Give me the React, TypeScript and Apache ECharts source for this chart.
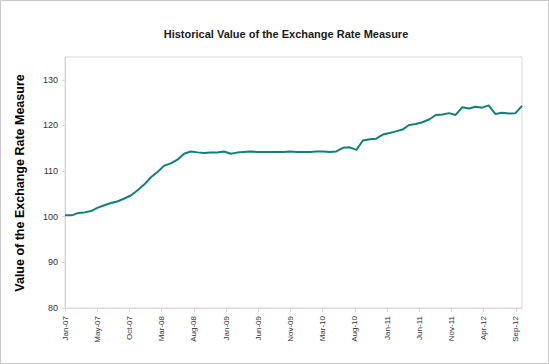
import React, { useEffect, useRef } from "react";
import * as echarts from "echarts";

const months: string[] = [
  "2007-01","2007-02","2007-03","2007-04","2007-05","2007-06","2007-07","2007-08","2007-09","2007-10","2007-11","2007-12",
  "2008-01","2008-02","2008-03","2008-04","2008-05","2008-06","2008-07","2008-08","2008-09","2008-10","2008-11","2008-12",
  "2009-01","2009-02","2009-03","2009-04","2009-05","2009-06","2009-07","2009-08","2009-09","2009-10","2009-11","2009-12",
  "2010-01","2010-02","2010-03","2010-04","2010-05","2010-06","2010-07","2010-08","2010-09","2010-10","2010-11","2010-12",
  "2011-01","2011-02","2011-03","2011-04","2011-05","2011-06","2011-07","2011-08","2011-09","2011-10","2011-11","2011-12",
  "2012-01","2012-02","2012-03","2012-04","2012-05","2012-06","2012-07","2012-08","2012-09","2012-10",
];

const values: number[] = [
  100.3, 100.3, 100.8, 100.95, 101.25, 102.0, 102.5, 103.0, 103.4, 104.0, 104.7, 105.8,
  107.1, 108.7, 109.8, 111.2, 111.7, 112.5, 113.8, 114.3, 114.1, 113.95, 114.05, 114.05,
  114.3, 113.8, 114.05, 114.2, 114.3, 114.2, 114.2, 114.2, 114.2, 114.2, 114.3, 114.2,
  114.2, 114.2, 114.3, 114.3, 114.2, 114.3, 115.1, 115.2, 114.65, 116.7, 117.0, 117.1,
  118.0, 118.35, 118.7, 119.1, 120.1, 120.3, 120.7, 121.3, 122.3, 122.4, 122.7, 122.3,
  124.0, 123.7, 124.1, 123.9, 124.4, 122.5, 122.8, 122.6, 122.7, 124.3,
];

const monthNames: string[] = ["Jan","Feb","Mar","Apr","May","Jun","Jul","Aug","Sep","Oct","Nov","Dec"];

const title = "Historical Value of the Exchange Rate Measure";
const yName = "Value of the Exchange Rate Measure";

const DAY = 86400000;
const BASE = Date.UTC(2007, 0, 1);

function dayOffset(m: string): number {
  const [y, mo] = m.split("-").map(Number);
  return Math.round((Date.UTC(y, mo - 1, 1) - BASE) / DAY);
}

function dayLabel(d: number): string {
  const dt = new Date(BASE + d * DAY);
  const yy = String(dt.getUTCFullYear() % 100).padStart(2, "0");
  return `${monthNames[dt.getUTCMonth()]}-${yy}`;
}

export default function App() {
  const ref = useRef<HTMLDivElement>(null);
  useEffect(() => {
    document.body.style.margin = "0";
    const chart = echarts.init(ref.current!, undefined, { renderer: "svg" });
    const data = months.map((m, i) => [dayOffset(m), values[i]]);
    const xMax = dayOffset(months[months.length - 1]);
    chart.setOption({
      animation: false,
      backgroundColor: "#ffffff",
      title: {
        text: title,
        left: 281,
        top: 23,
        textAlign: "center",
        textStyle: { fontFamily: "Liberation Sans, Arial", fontSize: 11, fontWeight: "bold", color: "#1a1a1a" },
      },
      grid: {
        left: 65,
        right: 27,
        top: 57,
        bottom: 56,
        show: true,
        borderColor: "#d9d9d9",
        borderWidth: 1,
        containLabel: false,
      },
      xAxis: {
        type: "value",
        min: 0,
        max: xMax,
        interval: 148,
        axisLine: { show: true, lineStyle: { color: "#d9d9d9" } },
        axisTick: { show: true, length: 4, lineStyle: { color: "#d9d9d9" } },
        splitLine: { show: false },
        axisLabel: {
          rotate: 90,
          margin: 8,
          showMaxLabel: false,
          fontFamily: "Liberation Sans, Arial",
          fontSize: 8,
          color: "#333333",
          formatter: (v: number) => dayLabel(v),
        },
      },
      yAxis: {
        type: "value",
        min: 80,
        max: 135,
        interval: 10,
        axisLine: { show: true, lineStyle: { color: "#d9d9d9" } },
        axisTick: { show: true, length: 3, lineStyle: { color: "#d9d9d9" } },
        splitLine: { show: false },
        axisLabel: {
          margin: 7,
          showMaxLabel: false,
          fontFamily: "Liberation Sans, Arial",
          fontSize: 9,
          color: "#333333",
        },
      },
      graphic: [
        {
          type: "rect",
          shape: { x: 0.5, y: 0.5, width: 548, height: 363 },
          style: { fill: "none", stroke: "#c8c8c8", lineWidth: 1 },
          silent: true,
        },
        {
          type: "text",
          x: 20,
          y: 183,
          rotation: Math.PI / 2,
          style: {
            text: yName,
            align: "center",
            verticalAlign: "middle",
            font: "bold 12.5px 'Liberation Sans', Arial",
            fill: "#000000",
          },
        },
      ],
      series: [
        {
          type: "line",
          data,
          showSymbol: false,
          symbol: "none",
          lineStyle: { color: "#127f7a", width: 2 },
        },
      ],
    });
    return () => chart.dispose();
  }, []);
  return <div ref={ref} style={{ width: 549, height: 364 }} />;
}
